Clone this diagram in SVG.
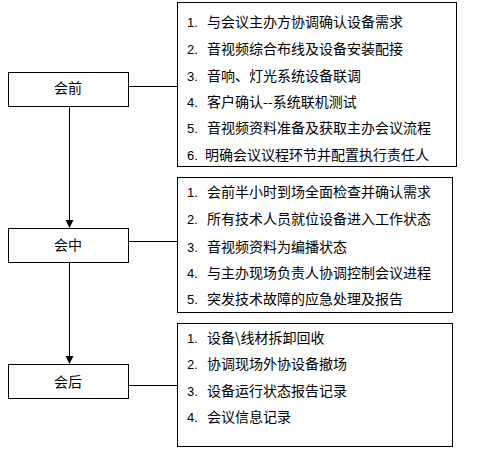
<svg xmlns="http://www.w3.org/2000/svg" width="478" height="457" viewBox="0 0 478 457">
<style>
.box{fill:#fff;stroke:#000;stroke-width:1}
.t{font-family:"Noto Sans CJK SC","Liberation Sans",sans-serif;font-size:14px;fill:#000}
.n{font-family:"Liberation Sans",sans-serif;font-size:13px;fill:#000}
.c{text-anchor:middle}
.ln{stroke:#000;stroke-width:1;fill:none}
</style>
<rect width="478" height="457" fill="#fff"/>
<g id="connectors">
<line class="ln" x1="128.5" y1="86.5" x2="177.5" y2="86.5"/>
<line class="ln" x1="128.5" y1="241.5" x2="177.5" y2="241.5"/>
<line class="ln" x1="128.5" y1="385.5" x2="177.5" y2="385.5"/>
<line class="ln" x1="69.5" y1="107" x2="69.5" y2="221"/>
<path d="M65.5,220 L73.5,220 L69.5,228 Z" fill="#000"/>
<line class="ln" x1="69.5" y1="262" x2="69.5" y2="357"/>
<path d="M65.5,356 L73.5,356 L69.5,364 Z" fill="#000"/>
</g>
<g id="before">
<rect class="box" x="8.5" y="72.5" width="120" height="34"/>
<text class="t c" x="68" y="93">会前</text>
</g>
<g id="before-items">
<rect class="box" x="177.5" y="2.5" width="279" height="164"/>
<text class="n" x="187" y="27">1.</text><text class="t" x="207" y="27">与会议主办方协调确认设备需求</text>
<text class="n" x="187" y="54">2.</text><text class="t" x="207" y="54">音视频综合布线及设备安装配接</text>
<text class="n" x="187" y="81">3.</text><text class="t" x="207" y="81">音响、灯光系统设备联调</text>
<text class="n" x="187" y="107">4.</text><text class="t" x="207" y="107">客户确认--系统联机测试</text>
<text class="n" x="187" y="133">5.</text><text class="t" x="207" y="133">音视频资料准备及获取主办会议流程</text>
<text class="n" x="187" y="160">6.</text><text class="t" x="205" y="160">明确会议议程环节并配置执行责任人</text>
</g>
<g id="during">
<rect class="box" x="8.5" y="228.5" width="120" height="34"/>
<text class="t c" x="68" y="250">会中</text>
</g>
<g id="during-items">
<rect class="box" x="177.5" y="177.5" width="275" height="135"/>
<text class="n" x="187" y="197">1.</text><text class="t" x="207" y="197">会前半小时到场全面检查并确认需求</text>
<text class="n" x="187" y="224">2.</text><text class="t" x="207" y="224">所有技术人员就位设备进入工作状态</text>
<text class="n" x="187" y="252">3.</text><text class="t" x="207" y="252">音视频资料为编播状态</text>
<text class="n" x="187" y="278">4.</text><text class="t" x="207" y="278">与主办现场负责人协调控制会议进程</text>
<text class="n" x="187" y="304">5.</text><text class="t" x="207" y="304">突发技术故障的应急处理及报告</text>
</g>
<g id="after">
<rect class="box" x="8.5" y="364.5" width="120" height="34"/>
<text class="t c" x="68" y="387">会后</text>
</g>
<g id="after-items">
<rect class="box" x="177.5" y="323.5" width="275" height="123"/>
<text class="n" x="187" y="343">1.</text><text class="t" x="207" y="343">设备\线材拆卸回收</text>
<text class="n" x="187" y="369">2.</text><text class="t" x="207" y="369">协调现场外协设备撤场</text>
<text class="n" x="187" y="396">3.</text><text class="t" x="207" y="396">设备运行状态报告记录</text>
<text class="n" x="187" y="422">4.</text><text class="t" x="207" y="422">会议信息记录</text>
</g>
</svg>
